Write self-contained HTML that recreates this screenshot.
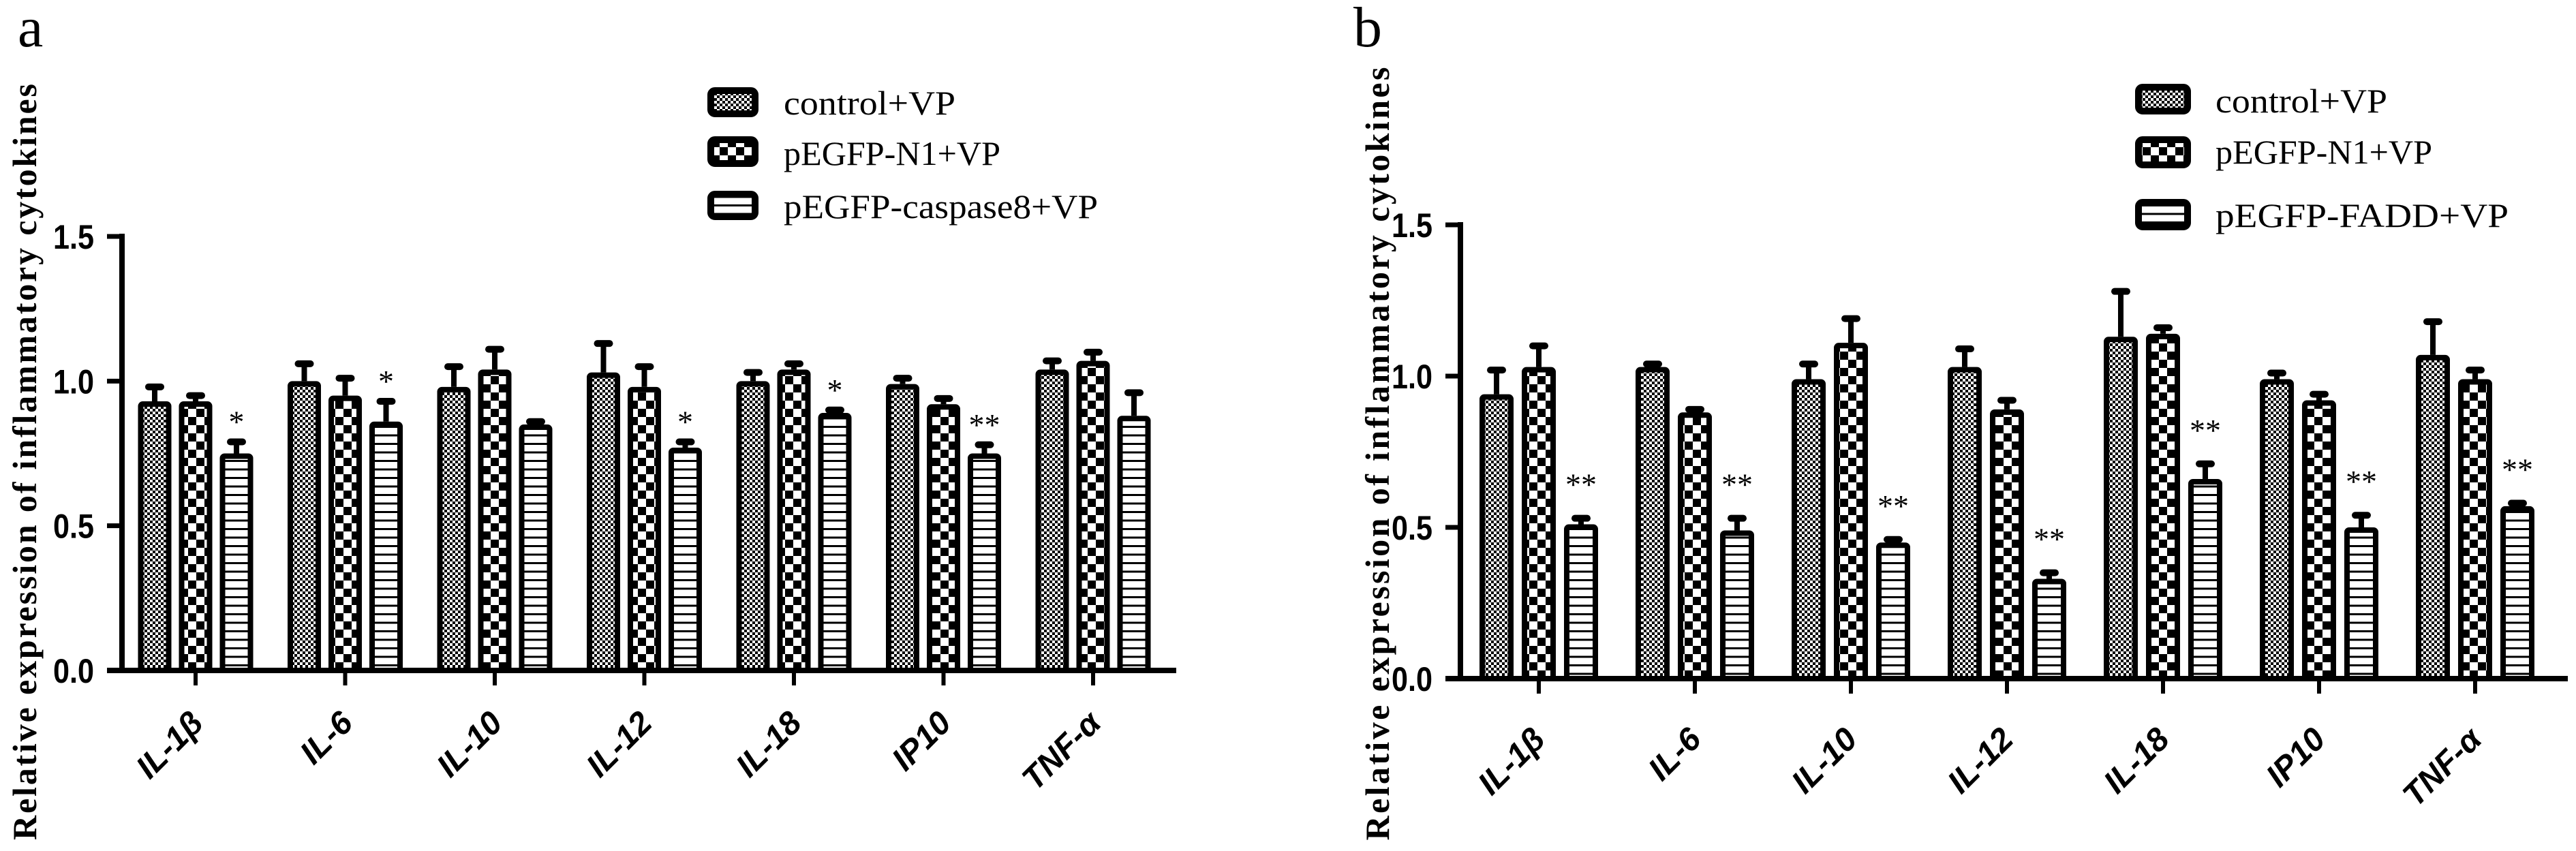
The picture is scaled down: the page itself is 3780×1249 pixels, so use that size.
<!DOCTYPE html>
<html><head><meta charset="utf-8">
<style>
html,body{margin:0;padding:0;background:#fff;}
svg{display:block;}
text{fill:#000;}
</style></head>
<body>
<svg id="chart" xmlns="http://www.w3.org/2000/svg" width="3780" height="1249" viewBox="0 0 3780 1249">
<defs>
  <pattern id="pFine" patternUnits="userSpaceOnUse" width="8" height="8">
    <rect width="8" height="8" fill="#fff"/>
    <rect x="0" y="0" width="4" height="4" fill="#000"/>
    <rect x="4" y="4" width="4" height="4" fill="#000"/>
  </pattern>
  <pattern id="pCheck" patternUnits="userSpaceOnUse" width="24" height="24">
    <rect width="24" height="24" fill="#fff"/>
    <rect x="0" y="0" width="12" height="12" fill="#000"/>
    <rect x="12" y="12" width="12" height="12" fill="#000"/>
  </pattern>
  <pattern id="pStripe" patternUnits="userSpaceOnUse" width="12" height="12.5">
    <rect width="12" height="12.5" fill="#fff"/>
    <rect x="0" y="0" width="12" height="3" fill="#000"/>
  </pattern>
</defs>
<g id="root"></g>
</svg>
<script>
// ---- data ----
const categories = ["IL-1β","IL-6","IL-10","IL-12","IL-18","IP10","TNF-α"];
const seriesNamesA = ["control+VP","pEGFP-N1+VP","pEGFP-caspase8+VP"];
const seriesNamesB = ["control+VP","pEGFP-N1+VP","pEGFP-FADD+VP"];
const yTicks = [0.0, 0.5, 1.0, 1.5];
const yTickLabels = ["0.0","0.5","1.0","1.5"];
// panel a
const aControl = [0.93,1.00,0.98,1.03,1.00,0.99,1.04];
const aControlErr = [0.05,0.06,0.07,0.10,0.03,0.02,0.03];
const aN1 = [0.93,0.95,1.04,0.98,1.04,0.92,1.07];
const aN1Err = [0.02,0.06,0.07,0.07,0.02,0.02,0.03];
const aCasp = [0.75,0.86,0.85,0.77,0.89,0.75,0.88];
const aCaspErr = [0.04,0.07,0.01,0.02,0.01,0.03,0.08];
const aStars = ["*","*","","*","*","**",""];
// panel b
const bControl = [0.94,1.03,0.99,1.03,1.13,0.99,1.07];
const bControlErr = [0.08,0.01,0.05,0.06,0.15,0.02,0.11];
const bN1 = [1.03,0.88,1.11,0.89,1.14,0.92,0.99];
const bN1Err = [0.07,0.01,0.08,0.03,0.02,0.02,0.03];
const bFadd = [0.51,0.49,0.45,0.33,0.66,0.50,0.57];
const bFaddErr = [0.02,0.04,0.01,0.02,0.05,0.04,0.01];
const bStars = ["**","**","**","**","**","**","**"];

const NS = "http://www.w3.org/2000/svg";
const root = document.getElementById("root");
function mk(tag, attrs, parent, txt){
  const e = document.createElementNS(NS, tag);
  for (const k in attrs) e.setAttribute(k, attrs[k]);
  if (txt !== undefined) e.textContent = txt;
  (parent||root).appendChild(e);
  return e;
}
const fills = ["url(#pFine)","url(#pCheck)","url(#pStripe)"];

function panel(cfg){
  const g = mk("g", {});
  
  
  const y = v => cfg.y0 - (v/1.5)*(cfg.y0 - cfg.y15);
  const x = i => cfg.x0 + i*cfg.step;

  const lt = mk("text", {x: cfg.letterX, y: 68, "font-family": "Liberation Serif, serif", "font-size": 84}, g, cfg.letter);
  
  

  const yt = mk("text", {x: 0, y: 0, transform: `translate(${cfg.titleX},${cfg.titleMid}) rotate(-90)`,
    "text-anchor": "middle", "font-family": "Liberation Serif, serif", "font-weight": "bold", "font-size": 50,
    textLength: cfg.titleLen, lengthAdjust: "spacing"}, g, "Relative expression of inflammatory cytokines");
  
  

  const series = cfg.series;
  for (let i = 0; i < categories.length; i++){
    for (let s = 0; s < 3; s++){
      const v = series[s][i], e = cfg.errs[s][i];
      const cx = x(i) + (s-1)*cfg.gap;
      const top = y(v), et = y(v+e);
      const bw = cfg.bw;
      const err = mk("line", {x1: cx, x2: cx, y1: top, y2: et, stroke: "#000", "stroke-width": 8}, g);
      
      
      const cap = mk("rect", {x: cx-14, y: et-5, width: 28, height: 10, rx: 5, fill: "#000"}, g);
      
      
      const r = mk("rect", {x: cx-bw/2+4, y: top+4, width: bw-8, height: Math.max(0, y(0)-top-4),
        fill: fills[s], stroke: "#000", "stroke-width": 8, rx: 3}, g);
      
      
      if (s === 2 && cfg.stars[i]){
        const st = mk("text", {x: cx, y: et - cfg.starOff, "text-anchor": "middle",
          "font-family": "Liberation Serif, serif", "font-size": 46}, g, cfg.stars[i]);
        
        
      }
    }
  }

  const ya = mk("line", {x1: cfg.ax, x2: cfg.ax, y1: cfg.y15-4, y2: cfg.y0+4, stroke: "#000", "stroke-width": 8}, g);
  
  
  const xa = mk("line", {x1: cfg.ax-22, x2: cfg.xEnd, y1: cfg.y0, y2: cfg.y0, stroke: "#000", "stroke-width": 8}, g);
  
  

  yTicks.forEach((t, k) => {
    const tk = mk("line", {x1: cfg.ax-22, x2: cfg.ax, y1: y(t), y2: y(t), stroke: "#000", "stroke-width": 7}, g);
    
    
    const tl = mk("text", {x: cfg.ax-41, y: y(t)+18, "text-anchor": "end", "font-family": "Liberation Sans, sans-serif",
      "font-weight": "bold", "font-size": 50, textLength: 60, lengthAdjust: "spacingAndGlyphs"}, g, yTickLabels[k]);
    
    
  });

  categories.forEach((c, i) => {
    const tk = mk("line", {x1: x(i), x2: x(i), y1: cfg.y0, y2: cfg.y0+22, stroke: "#000", "stroke-width": 6}, g);
    
    
    const lx = x(i) + cfg.lblDx, ly = cfg.y0 + cfg.lblDy;
    const tl = mk("text", {x: 0, y: 0, transform: `translate(${lx},${ly}) rotate(-45)`, "text-anchor": "end",
      "font-family": "Liberation Sans, sans-serif", "font-weight": "bold", "font-style": "italic", "font-size": 48}, g, c);
    
    
  });

  cfg.legendNames.forEach((n, s) => {
    const L = cfg.legend[s];
    const lg = mk("g", {}, g);
    
    
    mk("rect", {x: L[0]+5, y: L[1]+5, width: L[2]-L[0]-10, height: L[3]-L[1]-10, rx: 6,
      fill: fills[s], stroke: "#000", "stroke-width": 10}, lg);
    mk("text", {x: cfg.legText[0], y: L[4], "font-family": "Liberation Serif, serif", "font-size": 50,
      textLength: cfg.legLens[s], lengthAdjust: "spacingAndGlyphs"}, lg, n);
  });
}

panel({name: "panel-a", letter: "a", letterX: 26, titleX: 53, titleMid: 678, titleLen: 1110,
  x0: 287, step: 219.5, gap: 60, bw: 49, ax: 179, xEnd: 1726, y0: 984, y15: 347,
  series: [aControl, aN1, aCasp], errs: [aControlErr, aN1Err, aCaspErr], stars: aStars, starOff: 14,
  lblDx: 14, lblDy: 80,
  legendNames: seriesNamesA,
  legend: [[1038,128,1113,172,168],[1038,200,1113,245,242],[1038,280,1113,323,320]],
  legText: [1150], legLens: [252, 318, 461]});

panel({name: "panel-b", letter: "b", letterX: 1986, titleX: 2038, titleMid: 666, titleLen: 1135,
  x0: 2258, step: 229, gap: 62, bw: 50, ax: 2143, xEnd: 3768, y0: 996, y15: 330,
  series: [bControl, bN1, bFadd], errs: [bControlErr, bN1Err, bFaddErr], stars: bStars, starOff: 34,
  lblDx: 12, lblDy: 92,
  legendNames: seriesNamesB,
  legend: [[3133,123,3215,168,165],[3133,200,3215,247,240],[3133,292,3215,338,333]],
  legText: [3251], legLens: [252, 318, 430]});
</script>
</body></html>
